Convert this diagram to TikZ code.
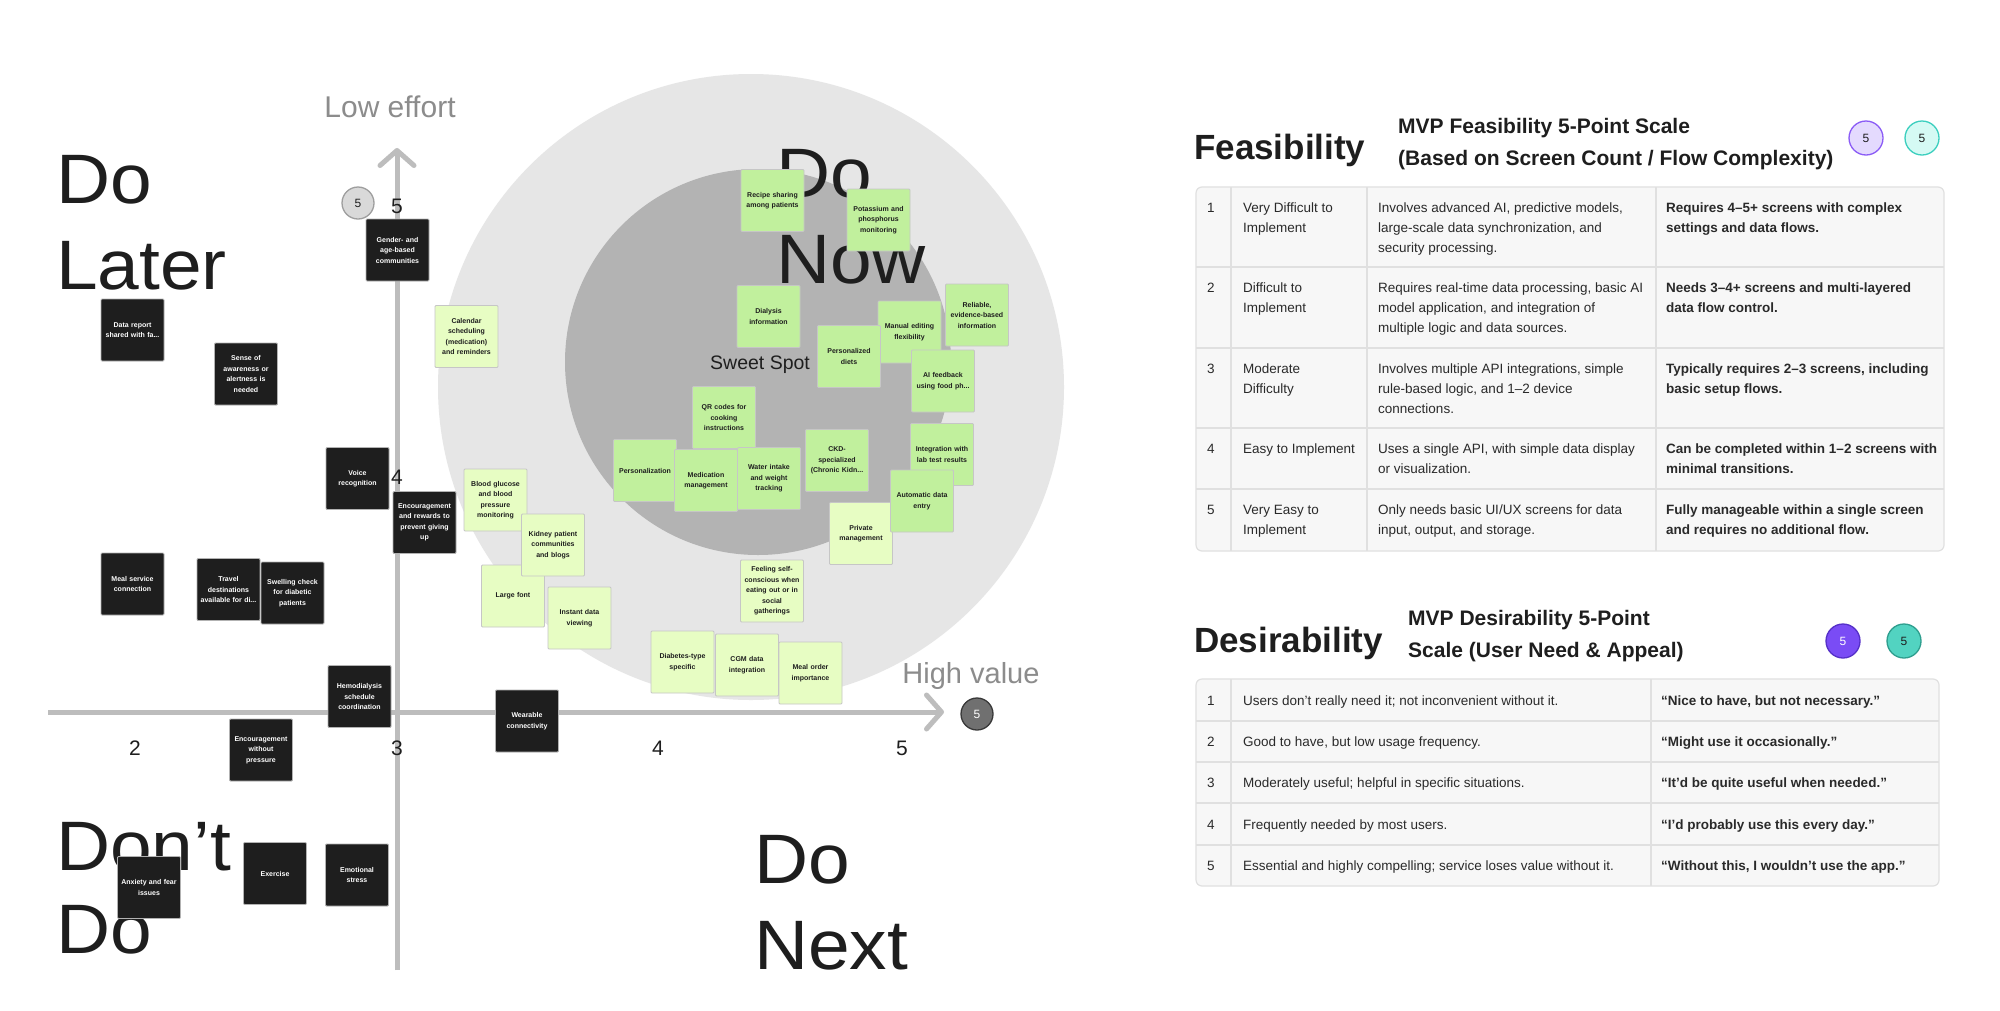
\documentclass[tikz,border=0pt]{standalone}
\usepackage{fontspec}
\setmainfont{Liberation Sans}
\newfontfamily\widesans[FakeStretch=1.07]{Liberation Sans}
\usepackage{tikz}
\usepackage{xcolor}
\usetikzlibrary{arrows.meta}

\definecolor{ink}{HTML}{1E1E1E}
\definecolor{axisgray}{HTML}{BDBDBD}
\definecolor{labelgray}{HTML}{8C8C8C}
\definecolor{outerzone}{HTML}{E6E6E6}
\definecolor{innerzone}{HTML}{B3B3B3}
\definecolor{notedark}{HTML}{1E1E1E}
\definecolor{notemid}{HTML}{C1F09D}
\definecolor{notelight}{HTML}{E7FDC3}
\definecolor{noteline}{HTML}{C6C6C6}
\definecolor{tablefill}{HTML}{F7F7F7}
\definecolor{tableline}{HTML}{E0E0E0}
\definecolor{tabletext}{HTML}{2A2A2A}
\definecolor{lavender}{HTML}{E4DAFE}
\definecolor{violet}{HTML}{8B5CF6}
\definecolor{mint}{HTML}{D5FAF4}
\definecolor{mintline}{HTML}{3CCFBF}
\definecolor{purplefill}{HTML}{7A4CF5}
\definecolor{purpleline}{HTML}{5530C8}
\definecolor{tealfill}{HTML}{52D3C1}
\definecolor{tealline}{HTML}{2E9E8E}

\begin{document}
\begin{tikzpicture}[x=1pt, y=-1pt,
  note/.style={rectangle, rounded corners=1pt, draw=noteline, line width=0.8pt,
    minimum width=63pt, minimum height=62pt, inner sep=1.5pt, text width=60pt,
    align=center, font=\bfseries\fontsize{7}{10.5}\selectfont},
  darknote/.style={note, fill=notedark, text=white, draw=gray!60},
  midnote/.style={note, fill=notemid, text=ink},
  lightnote/.style={note, fill=notelight, text=ink},
  quadlabel/.style={anchor=base west, inner sep=0pt, text=ink,
    font=\widesans\fontsize{70}{84}\selectfont},
  axislabel/.style={anchor=base, inner sep=0pt, text=labelgray, font=\fontsize{29}{34}\selectfont},
  axisnum/.style={inner sep=0pt, text=ink, font=\fontsize{21}{24}\selectfont},
  axisline/.style={draw=axisgray, line width=5pt, -{Straight Barb[length=15pt, width=34pt, round]}},
  badge/.style={circle, minimum size=34pt, inner sep=0pt, line width=1.3pt,
    font=\fontsize{12}{14}\selectfont},
  title/.style={anchor=base west, inner sep=0pt, text=ink, font=\bfseries\fontsize{35}{40}\selectfont},
  subtitle/.style={anchor=north west, inner sep=0pt, align=left, text=ink,
    font=\bfseries\fontsize{21}{32}\selectfont},
  celltext/.style={anchor=north west, inner sep=0pt, align=left, text=tabletext,
    font=\fontsize{13.5}{20}\selectfont},
  cellbold/.style={celltext, font=\bfseries\fontsize{13.5}{20}\selectfont},
  rowtext/.style={anchor=base west, inner sep=0pt, text=tabletext, font=\fontsize{13.5}{20}\selectfont},
  rowbold/.style={rowtext, font=\bfseries\fontsize{13.5}{20}\selectfont}]

\useasboundingbox (0,0) rectangle (2000,1010);
\fill[white] (0,0) rectangle (2000,1010);

% value / effort zones
\fill[outerzone] (751,387) circle[radius=313pt];
\fill[innerzone] (758,362) circle[radius=193pt];

% axes
\coordinate (ybot) at (397,970);
\coordinate (ytop) at (397,148);
\coordinate (xleft) at (48,712);
\coordinate (xright) at (944,712);
\draw[axisline] (ybot) -- (ytop);
\draw[axisline] (xleft) -- (xright);

\node[axislabel, font=\fontsize{30}{34}\selectfont] (loweffort) at (390,117) {Low effort};
\node[axislabel] (highvalue) at (971,683) {High value};
\node[axisnum] (y5) at (397,206) {5};
\node[axisnum] (y4) at (397,477) {4};
\node[axisnum] (x2) at (135,748) {2};
\node[axisnum] (x3) at (397,748) {3};
\node[axisnum] (x4) at (658,748) {4};
\node[axisnum] (x5) at (902,748) {5};
\node[badge, fill=black!15, draw=black!38, text=ink, minimum size=32pt] (effortbadge) at (358,203) {5};
\node[badge, fill=black!56, draw=black!78, text=white, minimum size=32pt] (valuebadge) at (977,714) {5};

% quadrant labels
\node[quadlabel] (dolater) at (56,203) {Do};
\node[quadlabel] (dolatertwo) at (56,289) {Later};
\node[quadlabel] (donow) at (776,197) {Do};
\node[quadlabel] (donowtwo) at (776,283) {Now};
\node[quadlabel] (dontdo) at (56,870) {Don’t};
\node[quadlabel] (dontdotwo) at (56,953) {Do};
\node[quadlabel] (donext) at (754,883) {Do};
\node[quadlabel] (donexttwo) at (754,969) {Next};
\node[anchor=base west, inner sep=0pt, text=ink, font=\fontsize{19.5}{22}\selectfont] (sweetspot) at (710,369) {Sweet Spot};

% dark notes
\node[darknote] (gender) at (397.5,250) {Gender- and\\age-based\\communities};
\node[darknote] (datareport) at (132.5,330) {Data report\\shared with fa...};
\node[darknote] (awareness) at (246,374) {Sense of\\awareness or\\alertness is\\needed};
\node[darknote] (voice) at (357.5,478.5) {Voice\\recognition};
\node[darknote] (rewards) at (424.5,522.5) {Encouragement\\and rewards to\\prevent giving\\up};
\node[darknote] (mealservice) at (132.5,584) {Meal service\\connection};
\node[darknote] (travel) at (228.5,589.5) {Travel\\destinations\\available for di...};
\node[darknote] (swelling) at (292.5,593) {Swelling check\\for diabetic\\patients};
\node[darknote] (hemodialysis) at (359.5,696.5) {Hemodialysis\\schedule\\coordination};
\node[darknote] (nopressure) at (261,750) {Encouragement\\without\\pressure};
\node[darknote] (wearable) at (527,721) {Wearable\\connectivity};
\node[darknote] (anxiety) at (149,887.5) {Anxiety and fear\\issues};
\node[darknote] (exercise) at (275,873.5) {Exercise};
\node[darknote] (emotional) at (357,875) {Emotional\\stress};

% light notes
\node[lightnote] (calendar) at (466.5,336.5) {Calendar\\scheduling\\(medication)\\and reminders};
\node[lightnote] (glucose) at (495.5,500) {Blood glucose\\and blood\\pressure\\monitoring};
\node[lightnote] (largefont) at (513,596) {Large font};
\node[lightnote] (kidneyblog) at (553,545) {Kidney patient\\communities\\and blogs};
\node[lightnote] (instant) at (579.5,618) {Instant data\\viewing};
\node[lightnote] (selfconscious) at (772,591) {Feeling self-\\conscious when\\eating out or in\\social\\gatherings};
\node[lightnote] (diabetes) at (682.5,662) {Diabetes-type\\specific};
\node[lightnote] (cgm) at (747,665) {CGM data\\integration};
\node[lightnote] (mealorder) at (810.5,673) {Meal order\\importance};
\node[lightnote] (private) at (861,533.5) {Private\\management};

% sweet spot notes
\node[midnote] (recipe) at (772.5,200.5) {Recipe sharing\\among patients};
\node[midnote] (potassium) at (878.5,220) {Potassium and\\phosphorus\\monitoring};
\node[midnote] (dialysis) at (768.5,316.5) {Dialysis\\information};
\node[midnote] (manual) at (909.5,332) {Manual editing\\flexibility};
\node[midnote] (reliable) at (977,315) {Reliable,\\evidence-based\\information};
\node[midnote] (diets) at (849,356.5) {Personalized\\diets};
\node[midnote] (aifeedback) at (943,381) {AI feedback\\using food ph...};
\node[midnote] (qrcodes) at (724,417.5) {QR codes for\\cooking\\instructions};
\node[midnote] (personalization) at (645,470.5) {Personalization};
\node[midnote] (medication) at (706,480.5) {Medication\\management};
\node[midnote] (water) at (769,478.5) {Water intake\\and weight\\tracking};
\node[midnote] (ckd) at (837,460.5) {CKD-\\specialized\\(Chronic Kidn...};
\node[midnote] (labresults) at (942,454.5) {Integration with\\lab test results};
\node[midnote] (autoentry) at (922,501) {Automatic data\\entry};

% feasibility scale
\node[title] (feasibility) at (1194,159) {Feasibility};
\node[subtitle] (feasscale) at (1398,118) {MVP Feasibility 5-Point Scale\\(Based on Screen Count / Flow Complexity)};
\node[badge, fill=lavender, draw=violet, text=ink] (feasbadgea) at (1866,138) {5};
\node[badge, fill=mint, draw=mintline, text=ink] (feasbadgeb) at (1922,138) {5};

\draw[fill=tablefill, draw=tableline, line width=1.2pt, rounded corners=6pt] (1196,187) rectangle (1944,551);
\foreach \y in {267,348,428,489}
  \draw[tableline, line width=1.8pt] (1196,\y) -- (1944,\y);
\foreach \x in {1231,1367,1656}
  \draw[tableline, line width=1.2pt] (\x,187) -- (\x,551);

\node[celltext] (f1n) at (1207,203) {1};
\node[celltext] (f1a) at (1243,203) {Very Difficult to\\Implement};
\node[celltext] (f1b) at (1378,203) {Involves advanced AI, predictive models,\\large-scale data synchronization, and\\security processing.};
\node[cellbold] (f1c) at (1666,203) {Requires 4–5+ screens with complex\\settings and data flows.};
\node[celltext] (f2n) at (1207,283) {2};
\node[celltext] (f2a) at (1243,283) {Difficult to\\Implement};
\node[celltext] (f2b) at (1378,283) {Requires real-time data processing, basic AI\\model application, and integration of\\multiple logic and data sources.};
\node[cellbold] (f2c) at (1666,283) {Needs 3–4+ screens and multi-layered\\data flow control.};
\node[celltext] (f3n) at (1207,364) {3};
\node[celltext] (f3a) at (1243,364) {Moderate\\Difficulty};
\node[celltext] (f3b) at (1378,364) {Involves multiple API integrations, simple\\rule-based logic, and 1–2 device\\connections.};
\node[cellbold] (f3c) at (1666,364) {Typically requires 2–3 screens, including\\basic setup flows.};
\node[celltext] (f4n) at (1207,444) {4};
\node[celltext] (f4a) at (1243,444) {Easy to Implement};
\node[celltext] (f4b) at (1378,444) {Uses a single API, with simple data display\\or visualization.};
\node[cellbold] (f4c) at (1666,444) {Can be completed within 1–2 screens with\\minimal transitions.};
\node[celltext] (f5n) at (1207,505) {5};
\node[celltext] (f5a) at (1243,505) {Very Easy to\\Implement};
\node[celltext] (f5b) at (1378,505) {Only needs basic UI/UX screens for data\\input, output, and storage.};
\node[cellbold] (f5c) at (1666,505) {Fully manageable within a single screen\\and requires no additional flow.};

% desirability scale
\node[title] (desirability) at (1194,652) {Desirability};
\node[subtitle] (desscale) at (1408,610) {MVP Desirability 5-Point\\Scale (User Need \& Appeal)};
\node[badge, fill=purplefill, draw=purpleline, text=white] (desbadgea) at (1843,641) {5};
\node[badge, fill=tealfill, draw=tealline, text=ink] (desbadgeb) at (1904,641) {5};

\draw[fill=tablefill, draw=tableline, line width=1.2pt, rounded corners=6pt] (1196,679) rectangle (1939,886);
\foreach \y in {721,762,803,845}
  \draw[tableline, line width=1.8pt] (1196,\y) -- (1939,\y);
\foreach \x in {1231,1651}
  \draw[tableline, line width=1.2pt] (\x,679) -- (\x,886);

\node[rowtext] (d1n) at (1207,705) {1};
\node[rowtext] (d1a) at (1243,705) {Users don’t really need it; not inconvenient without it.};
\node[rowbold] (d1b) at (1661,705) {“Nice to have, but not necessary.”};
\node[rowtext] (d2n) at (1207,746.5) {2};
\node[rowtext] (d2a) at (1243,746.5) {Good to have, but low usage frequency.};
\node[rowbold] (d2b) at (1661,746.5) {“Might use it occasionally.”};
\node[rowtext] (d3n) at (1207,787.5) {3};
\node[rowtext] (d3a) at (1243,787.5) {Moderately useful; helpful in specific situations.};
\node[rowbold] (d3b) at (1661,787.5) {“It’d be quite useful when needed.”};
\node[rowtext] (d4n) at (1207,829) {4};
\node[rowtext] (d4a) at (1243,829) {Frequently needed by most users.};
\node[rowbold] (d4b) at (1661,829) {“I’d probably use this every day.”};
\node[rowtext] (d5n) at (1207,870.5) {5};
\node[rowtext] (d5a) at (1243,870.5) {Essential and highly compelling; service loses value without it.};
\node[rowbold] (d5b) at (1661,870.5) {“Without this, I wouldn’t use the app.”};

\end{tikzpicture}
\end{document}
